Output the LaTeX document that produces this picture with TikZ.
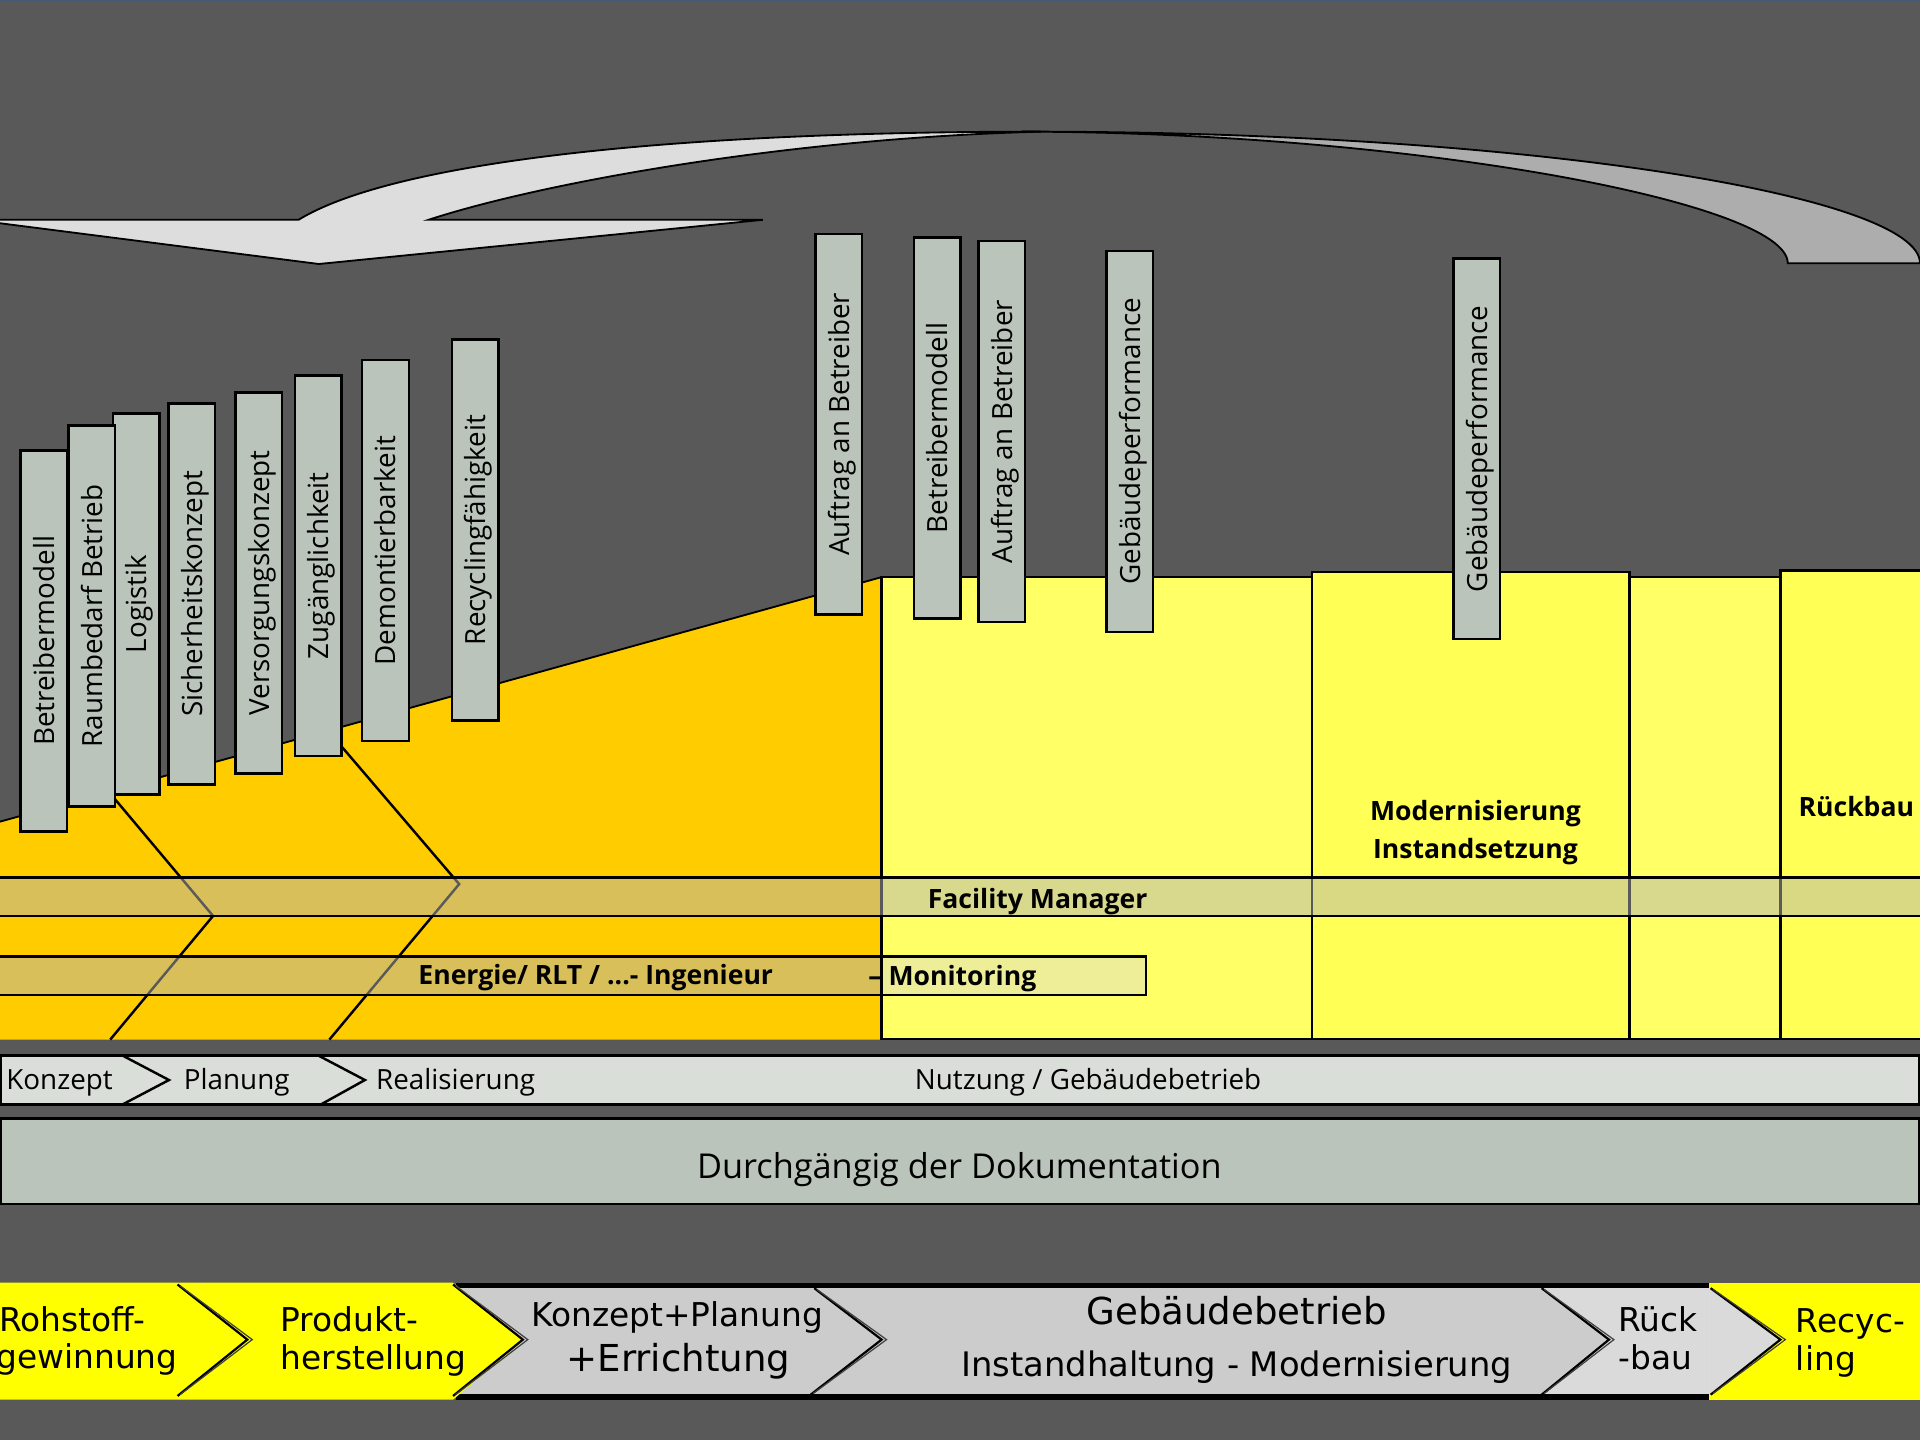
\documentclass[tikz,border=0pt]{standalone}
\usepackage{fontspec}
\setmainfont{Open Sans}
\newfontfamily\dvfont{DejaVu Sans}
\definecolor{bgc}{RGB}{89,89,89}
\definecolor{topc}{RGB}{70,90,120}
\definecolor{orangec}{RGB}{255,204,0}
\definecolor{yellowc}{RGB}{255,255,102}
\definecolor{yellowbox}{RGB}{255,255,85}
\definecolor{boxg}{RGB}{187,196,187}
\definecolor{phasec}{RGB}{217,222,217}
\definecolor{bandc}{RGB}{180,180,180}
\definecolor{monc}{RGB}{238,238,153}
\definecolor{arrlight}{RGB}{221,221,221}
\definecolor{arrdark}{RGB}{173,173,173}
\definecolor{byellow}{RGB}{255,255,0}
\definecolor{bgray}{RGB}{204,204,204}
\definecolor{bgrayl}{RGB}{218,218,218}
\begin{document}
\begin{tikzpicture}[x=1pt,y=-1pt,
  vb/.style={rotate=90, draw=black, fill=boxg, line width=2pt, minimum width=311pt, minimum height=38pt, inner sep=0pt, text height=17pt, text depth=0pt, font=\fontsize{22.7}{27}\selectfont},
  rt/.style={inner sep=0pt, font=\fontsize{22.7}{27}\selectfont},
  bt/.style={inner sep=0pt, font=\fontsize{21.7}{26}\selectfont\bfseries},
  dv/.style={inner sep=0pt, font=\dvfont\fontsize{26.8}{31}\selectfont},
  dvl/.style={inner sep=0pt, font=\dvfont\fontsize{30.3}{35}\selectfont},
  edgeline/.style={draw=black, line width=2pt},
  chev/.style={draw=black, line width=1.8pt, line join=miter},
  chevb/.style={draw=black!75, line width=1pt, line join=miter}
]
\useasboundingbox (0,0) rectangle (1568,1176);
\fill[bgc] (0,0) rectangle (1568,1176);
\fill[topc] (0,0) rectangle (1568,2);

% big curved arrow
\filldraw[fill=arrdark, draw=black, line width=1.5pt] (835,107.5) .. controls (1250,107) and (1568,160) .. (1568,215) -- (1460,215) .. controls (1460,165) and (1150,108) .. (835,107.5) -- cycle;
\filldraw[fill=arrlight, draw=black, line width=1.5pt] (-22,179.5) -- (243.8,179.5) .. controls (320,133) and (540,107.5) .. (850,107.5) .. controls (640,113) and (440,150) .. (350,179.5) -- (623,179.5) -- (260.4,215.6) -- cycle;

% orange and yellow regions
\fill[orangec] (0,671) -- (720,471.3) -- (720,849) -- (0,849) -- cycle;
\draw[line width=1.5pt] (0,671) -- (720,471.3);
\filldraw[fill=yellowc, edgeline] (720,471) rectangle (1580,848.5);
\filldraw[fill=yellowbox, edgeline] (1071.4,467) rectangle (1330.7,848.5);
\filldraw[fill=yellowbox, edgeline] (1454,466) rectangle (1580,848.5);

% chevron lines in orange area
\draw[edgeline] (90,648) -- (174,748) -- (90,849);
\draw[edgeline] (275,605) -- (375,722) -- (269,849);

% vertical boxes
\node[vb] (b3) at (111.2,493.2) {Logistik};
\node[vb] (b1) at (35.8,523.4) {Betreibermodell};
\node[vb] (b2) at (75,503) {Raumbedarf Betrieb};
\node[vb] (b4) at (156.5,485) {Sicherheitskonzept};
\node[vb] (b5) at (211.4,476) {Versorgungskonzept};
\node[vb] (b6) at (260,462) {Zugänglichkeit};
\node[vb] (b7) at (314.8,449.7) {Demontierbarkeit};
\node[vb] (b8) at (388.2,432.8) {Recyclingfähigkeit};
\node[vb] (b9) at (685,346.5) {Auftrag an Betreiber};
\node[vb] (b10) at (765.5,349.5) {Betreibermodell};
\node[vb] (b11) at (818,352.5) {Auftrag an Betreiber};
\node[vb] (b12) at (922.5,360.5) {Gebäudeperformance};
\node[vb] (b13) at (1206,366.5) {Gebäudeperformance};

% bands
\fill[bandc, fill opacity=0.5] (0,716.5) rectangle (1568,748);
\draw[edgeline] (0,716.5) -- (1568,716.5);
\draw[edgeline] (0,748) -- (1568,748);
\fill[bandc, fill opacity=0.5] (0,781) rectangle (720,812.5);
\draw[edgeline] (0,781) -- (720,781);
\draw[edgeline] (0,812.5) -- (720,812.5);
\filldraw[fill=monc, edgeline] (720,781.3) rectangle (936,812.6);

\node[bt, anchor=base west] (fm) at (757.5,741.8) {Facility Manager};
\node[bt, anchor=base west] (en) at (341.5,804) {Energie/ RLT / ...- Ingenieur};
\node[bt, anchor=base west] (mon) at (709,805) {– Monitoring};
\node[bt, anchor=base] (mod1) at (1205,669.7) {Modernisierung};
\node[bt, anchor=base] (mod2) at (1205,701) {Instandsetzung};
\node[bt, anchor=base] (rb) at (1516,667) {Rückbau};

% phase bar
\filldraw[fill=phasec, edgeline] (1,862) rectangle (1567,902);
\draw[edgeline] (100,862) -- (138,882) -- (100,902);
\draw[edgeline] (260,862) -- (298,882) -- (262,902);
\node[rt, anchor=base west] (p1) at (5,890) {Konzept};
\node[rt, anchor=base west] (p2) at (150,890) {Planung};
\node[rt, anchor=base west] (p3) at (307,890) {Realisierung};
\node[rt, anchor=base west] (p4) at (747,890) {Nutzung / Gebäudebetrieb};

% documentation bar
\filldraw[fill=boxg, edgeline] (1,913.6) rectangle (1567,983.3);
\node[rt, font=\fontsize{28}{33}\selectfont, anchor=base] (doc) at (783.5,962.4) {Durchgängig der Dokumentation};

% bottom life cycle band
\fill[bgray] (372,1050) rectangle (1396,1141);
\fill[bgrayl] (1259,1052) -- (1314,1094) -- (1259,1139) -- (1396,1139) -- (1396,1052) -- cycle;
\draw[line width=4.5pt] (372,1050) -- (1396,1050);
\draw[line width=4.5pt] (372,1141) -- (1396,1141);
\fill[byellow] (-1,1047.5) -- (370,1047.5) -- (428,1094) -- (370,1143) -- (-1,1143) -- cycle;
\fill[byellow] (1396,1047.5) rectangle (1569,1143);
\fill[bgrayl] (1396,1052) -- (1454,1094) -- (1396,1139) -- cycle;

\draw[chev] (145,1049) -- (202,1094) -- (145,1140);
\draw[chevb] (147,1050) -- (206,1094) -- (147,1139);
\draw[chev] (370,1049) -- (427,1094) -- (370,1140);
\draw[chevb] (372,1050) -- (431,1094) -- (372,1139);
\draw[chev] (665,1052) -- (720,1094) -- (662,1139);
\draw[chevb] (667,1053) -- (724,1094) -- (664,1138);
\draw[chev] (1259,1052) -- (1314,1094) -- (1259,1139);
\draw[chevb] (1261,1053) -- (1318,1094) -- (1261,1138);
\draw[chev] (1397,1052) -- (1454,1094) -- (1397,1139);
\draw[chevb] (1399,1053) -- (1458,1094) -- (1399,1138);

\node[dv, anchor=base west] (t1a) at (-1,1087.5) {Rohstoff-};
\node[dv, anchor=base west] (t1b) at (-3,1117.5) {gewinnung};
\node[dv, anchor=base west] (t2a) at (229,1087.5) {Produkt-};
\node[dv, anchor=base west] (t2b) at (229,1118.8) {herstellung};
\node[dv, anchor=base] (t3a) at (553,1083.4) {Konzept+Planung};
\node[dvl, anchor=base] (t3b) at (554,1120.2) {+Errichtung};
\node[dvl, anchor=base] (t4a) at (1010,1082) {Gebäudebetrieb};
\node[dv, font=\dvfont\fontsize{27.6}{32}\selectfont, anchor=base] (t4b) at (1010,1124) {Instandhaltung - Modernisierung};
\node[dv, anchor=base west] (t5a) at (1321.5,1087.5) {Rück};
\node[dv, anchor=base west] (t5b) at (1321.5,1118.8) {-bau};
\node[dv, anchor=base west] (t6a) at (1466.5,1088) {Recyc-};
\node[dv, anchor=base west] (t6b) at (1466.5,1119) {ling};
\end{tikzpicture}
\end{document}
